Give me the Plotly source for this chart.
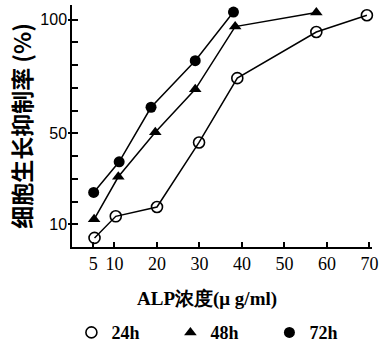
import plotly.graph_objects as go

conc_24 = [5.3, 10.3, 20, 29.9, 38.9, 57.5, 69.4]
val_24 = [4, 13.5, 17.6, 46, 74.3, 94.6, 102]
conc_48 = [5.2, 10.9, 19.6, 29, 38.4, 57.5]
val_48 = [12.2, 30.9, 50.5, 69.4, 97, 103.2]
conc_72 = [5.1, 11.1, 18.6, 29, 38]
val_72 = [24, 37.5, 61.5, 82, 103.4]

x_ticks = [5, 10, 20, 30, 40, 50, 60, 70]
y_tickvals = [10, 20, 30, 40, 50, 60, 70, 80, 90, 100]
y_ticktext = ["10", "", "", "", "50", "", "", "", "", "100"]
y_labeled = [10, 50, 100]

serif = "Liberation Serif"
sans = "Liberation Sans"

fig = go.Figure()
line = dict(color="black", width=1.5)
m24 = dict(symbol="circle-open", size=11, color="black", line=dict(width=1.6))
m48 = dict(symbol="triangle-up", size=11, color="black")
m72 = dict(symbol="circle", size=11, color="black")
fig.add_trace(go.Scatter(x=conc_24, y=val_24, mode="lines+markers", name="24h",
                         line=line, cliponaxis=False, marker=m24, showlegend=False))
fig.add_trace(go.Scatter(x=conc_48, y=val_48, mode="lines+markers", name="48h",
                         line=line, cliponaxis=False, marker=m48, showlegend=False))
fig.add_trace(go.Scatter(x=conc_72, y=val_72, mode="lines+markers", name="72h",
                         line=line, cliponaxis=False, marker=m72, showlegend=False))
# helper trace so the overlay axis (outer parts of labelled ticks) is drawn
fig.add_trace(go.Scatter(x=[None], y=[None], yaxis="y2", showlegend=False, hoverinfo="skip"))
for name, m in [("24h", m24), ("48h", m48), ("72h", m72)]:
    fig.add_trace(go.Scatter(x=[None], y=[None], mode="markers", name="<b>" + name + "</b>", marker=m))

fig.update_layout(
    width=386, height=343,
    margin=dict(l=72, r=14, t=5, b=96, autoexpand=False),
    paper_bgcolor="white", plot_bgcolor="white",
    showlegend=True,
    legend=dict(orientation="h", xref="container", yref="container", x=0.185, xanchor="left",
                y=0.03, yanchor="middle",
                font=dict(family=serif, size=18, color="black"),
                entrywidth=54, entrywidthmode="pixels", tracegroupgap=0),
    xaxis=dict(range=[0, 70.6], tickmode="array", tickvals=x_ticks, ticks="inside", ticklen=5,
               tickcolor="black", tickwidth=2,
               showline=True, linecolor="black", linewidth=1.5, showgrid=False, zeroline=False,
               tickfont=dict(family=serif, size=18, color="black")),
    yaxis=dict(range=[0, 106.5], tickmode="array", tickvals=y_tickvals, ticktext=y_ticktext,
               ticks="inside", ticklen=6, tickcolor="black", tickwidth=2,
               showline=True, linecolor="black", linewidth=1.5, showgrid=False, zeroline=False,
               tickfont=dict(family=sans, size=16, color="black"),
               title=dict(text="<b>细胞生长抑制率 (%)</b>", font=dict(family="Noto Sans CJK SC", size=23, color="black"),
                          standoff=2)),
    yaxis2=dict(range=[0, 106.5], overlaying="y", side="left", anchor="x", tickmode="array",
                tickvals=y_labeled, ticks="outside", ticklen=3, tickcolor="black", tickwidth=2,
                showticklabels=False, showgrid=False, zeroline=False, showline=False),
    annotations=[dict(text="<b>ALP浓度(μ g/ml)</b>", xref="paper", yref="paper",
                      x=0.45, y=-0.215, xanchor="center", yanchor="middle", showarrow=False,
                      font=dict(family=serif, size=19, color="black"))],
)

fig.write_html("out.html")
